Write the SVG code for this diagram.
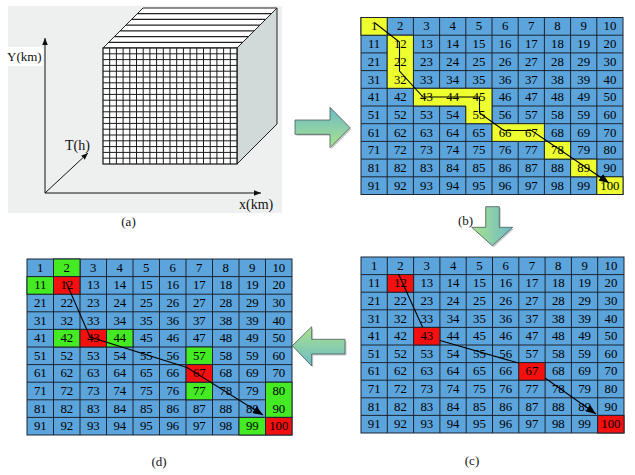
<svg xmlns="http://www.w3.org/2000/svg" width="635" height="475" viewBox="0 0 635 475">
<style>
.n{font-family:"Liberation Serif","Times New Roman",serif;font-size:12.8px;text-anchor:middle;fill:#000}
.lb{font-family:"Liberation Serif","Times New Roman",serif;font-size:13px;fill:#111}
.cell{fill:#5ca4dc;stroke:#1c2530;stroke-width:1}
.gl{fill:none;stroke:#1c2530;stroke-width:1}
.y{fill:#eeff30;stroke:#1c2530;stroke-width:1}
.r{fill:#f51010;stroke:#1c2530;stroke-width:1}
.g{fill:#44ea22;stroke:#1c2530;stroke-width:1}
.path{fill:none;stroke:#000;stroke-width:1.1}
.ax{fill:none;stroke:#111;stroke-width:1}
.big{stroke:#4a5a5a;stroke-width:0.8}
.sh{fill:#c8cccc}
</style>
<defs>
<marker id="ah" viewBox="0 0 10 8" refX="10" refY="4" markerWidth="10" markerHeight="8" markerUnits="userSpaceOnUse" orient="auto"><path d="M0,0L10,4L0,8z" fill="#000"/></marker>
<marker id="ahs" viewBox="0 0 10 8" refX="10" refY="4" markerWidth="7" markerHeight="6" markerUnits="userSpaceOnUse" orient="auto"><path d="M0,0L10,4L0,8z" fill="#111"/></marker>
<linearGradient id="gR" x1="0" y1="0" x2="0" y2="1"><stop offset="0" stop-color="#6cbac8"/><stop offset="1" stop-color="#aae38c"/></linearGradient>
<linearGradient id="gD" x1="0" y1="0" x2="1" y2="0"><stop offset="0" stop-color="#aae38c"/><stop offset="1" stop-color="#6cbac8"/></linearGradient>
<linearGradient id="gL" x1="0" y1="0" x2="0" y2="1"><stop offset="0" stop-color="#aae38c"/><stop offset="1" stop-color="#6cbac8"/></linearGradient>
</defs>
<rect width="635" height="475" fill="#fff"/>

<g id="panel-a">
<rect x="8" y="6" width="274" height="207" fill="#eef0f0"/>
<rect x="6" y="47" width="37" height="19" fill="#fff"/>
<polygon points="237,48 277,8 277,124 237,164" fill="#d2d9d9" stroke="#222" stroke-width="1"/>
<polygon points="103,48 143,8 277,8 237,48" fill="#fff" stroke="#222" stroke-width="1"/>
<path d="M137.3 13.7H271.3M131.6 19.4H265.6M125.9 25.1H259.9M120.1 30.9H254.1M114.4 36.6H248.4M108.7 42.3H242.7" stroke="#222" stroke-width="1.2"/>
<rect x="103" y="48" width="134" height="116" fill="#fff" stroke="#111" stroke-width="1.2"/>
<path d="M109.7 48V164M116.4 48V164M123.1 48V164M129.8 48V164M136.5 48V164M143.2 48V164M149.9 48V164M156.6 48V164M163.3 48V164M170 48V164M176.7 48V164M183.4 48V164M190.1 48V164M196.8 48V164M203.5 48V164M210.2 48V164M216.9 48V164M223.6 48V164M230.3 48V164M103 53.8H237M103 59.6H237M103 65.4H237M103 71.2H237M103 77H237M103 82.8H237M103 88.6H237M103 94.4H237M103 100.2H237M103 106H237M103 111.8H237M103 117.6H237M103 123.4H237M103 129.2H237M103 135H237M103 140.8H237M103 146.6H237M103 152.4H237M103 158.2H237" stroke="#1a1a1a" stroke-width="1"/>
<path class="ax" d="M45 193V38" marker-end="url(#ahs)"/>
<path class="ax" d="M45 193H261" marker-end="url(#ahs)"/>
<path class="ax" d="M45 193L88 153" marker-end="url(#ahs)"/>
<text class="lb" x="7" y="61">Y(km)</text>
<text class="lb" x="65" y="150" style="font-size:14px">T(h)</text>
<text class="lb" x="239" y="209" style="font-size:14px">x(km)</text>
<text class="lb" x="128.5" y="226" text-anchor="middle">(a)</text>
</g>

<g id="arrows">
<polygon class="sh" points="296.5,121.5 331.5,121.5 331.5,108.8 351.5,129.2 331.5,149.2 331.5,135.8 296.5,135.8"/>
<polygon class="big" fill="url(#gR)" points="295,120 330,120 330,107.3 350,127.7 330,147.7 330,134.3 295,134.3"/>
<polygon class="sh" points="487.2,208.2 500.8,208.2 500.8,228.8 514.2,228.8 493.8,247.2 473.2,228.8 487.2,228.8"/>
<polygon class="big" fill="url(#gD)" points="485.7,206.7 499.3,206.7 499.3,227.3 512.7,227.3 492.3,245.7 471.7,227.3 485.7,227.3"/>
<polygon class="sh" points="293.8,347.2 313.2,328.2 313.2,340.8 346.5,340.8 346.5,355.5 313.2,355.5 313.2,367.5"/>
<polygon class="big" fill="url(#gL)" points="292.3,345.7 311.7,326.7 311.7,339.3 345,339.3 345,354 311.7,354 311.7,366"/>
</g>

<g id="panel-b">
<rect class="cell" x="361" y="17.5" width="262" height="177"/>
<path class="gl" d="M387.2 17.5V194.5M413.4 17.5V194.5M439.6 17.5V194.5M465.8 17.5V194.5M492 17.5V194.5M518.2 17.5V194.5M544.4 17.5V194.5M570.6 17.5V194.5M596.8 17.5V194.5M361 35.2H623M361 52.9H623M361 70.6H623M361 88.3H623M361 106H623M361 123.7H623M361 141.4H623M361 159.1H623M361 176.8H623"/>
<rect class="y" x="361" y="17.5" width="26.2" height="17.7"/>
<rect class="y" x="387.2" y="35.2" width="26.2" height="53.1"/>
<polygon class="y" points="413.4,88.3 492,88.3 492,123.7 465.8,123.7 465.8,106 413.4,106"/>
<rect class="y" x="492" y="123.7" width="52.4" height="17.7"/>
<rect class="y" x="544.4" y="141.4" width="26.2" height="17.7"/>
<rect class="y" x="570.6" y="159.1" width="26.2" height="17.7"/>
<rect class="y" x="596.8" y="176.8" width="26.2" height="17.7"/>
<text class="n" x="374.1" y="30.4">1</text><text class="n" x="400.3" y="30.4">2</text><text class="n" x="426.5" y="30.4">3</text><text class="n" x="452.7" y="30.4">4</text><text class="n" x="478.9" y="30.4">5</text><text class="n" x="505.1" y="30.4">6</text><text class="n" x="531.3" y="30.4">7</text><text class="n" x="557.5" y="30.4">8</text><text class="n" x="583.7" y="30.4">9</text><text class="n" x="609.9" y="30.4">10</text>
<text class="n" x="374.1" y="48.1">11</text><text class="n" x="400.3" y="48.1">12</text><text class="n" x="426.5" y="48.1">13</text><text class="n" x="452.7" y="48.1">14</text><text class="n" x="478.9" y="48.1">15</text><text class="n" x="505.1" y="48.1">16</text><text class="n" x="531.3" y="48.1">17</text><text class="n" x="557.5" y="48.1">18</text><text class="n" x="583.7" y="48.1">19</text><text class="n" x="609.9" y="48.1">20</text>
<text class="n" x="374.1" y="65.8">21</text><text class="n" x="400.3" y="65.8">22</text><text class="n" x="426.5" y="65.8">23</text><text class="n" x="452.7" y="65.8">24</text><text class="n" x="478.9" y="65.8">25</text><text class="n" x="505.1" y="65.8">26</text><text class="n" x="531.3" y="65.8">27</text><text class="n" x="557.5" y="65.8">28</text><text class="n" x="583.7" y="65.8">29</text><text class="n" x="609.9" y="65.8">30</text>
<text class="n" x="374.1" y="83.5">31</text><text class="n" x="400.3" y="83.5">32</text><text class="n" x="426.5" y="83.5">33</text><text class="n" x="452.7" y="83.5">34</text><text class="n" x="478.9" y="83.5">35</text><text class="n" x="505.1" y="83.5">36</text><text class="n" x="531.3" y="83.5">37</text><text class="n" x="557.5" y="83.5">38</text><text class="n" x="583.7" y="83.5">39</text><text class="n" x="609.9" y="83.5">40</text>
<text class="n" x="374.1" y="101.2">41</text><text class="n" x="400.3" y="101.2">42</text><text class="n" x="426.5" y="101.2">43</text><text class="n" x="452.7" y="101.2">44</text><text class="n" x="478.9" y="101.2">45</text><text class="n" x="505.1" y="101.2">46</text><text class="n" x="531.3" y="101.2">47</text><text class="n" x="557.5" y="101.2">48</text><text class="n" x="583.7" y="101.2">49</text><text class="n" x="609.9" y="101.2">50</text>
<text class="n" x="374.1" y="118.9">51</text><text class="n" x="400.3" y="118.9">52</text><text class="n" x="426.5" y="118.9">53</text><text class="n" x="452.7" y="118.9">54</text><text class="n" x="478.9" y="118.9">55</text><text class="n" x="505.1" y="118.9">56</text><text class="n" x="531.3" y="118.9">57</text><text class="n" x="557.5" y="118.9">58</text><text class="n" x="583.7" y="118.9">59</text><text class="n" x="609.9" y="118.9">60</text>
<text class="n" x="374.1" y="136.6">61</text><text class="n" x="400.3" y="136.6">62</text><text class="n" x="426.5" y="136.6">63</text><text class="n" x="452.7" y="136.6">64</text><text class="n" x="478.9" y="136.6">65</text><text class="n" x="505.1" y="136.6">66</text><text class="n" x="531.3" y="136.6">67</text><text class="n" x="557.5" y="136.6">68</text><text class="n" x="583.7" y="136.6">69</text><text class="n" x="609.9" y="136.6">70</text>
<text class="n" x="374.1" y="154.3">71</text><text class="n" x="400.3" y="154.3">72</text><text class="n" x="426.5" y="154.3">73</text><text class="n" x="452.7" y="154.3">74</text><text class="n" x="478.9" y="154.3">75</text><text class="n" x="505.1" y="154.3">76</text><text class="n" x="531.3" y="154.3">77</text><text class="n" x="557.5" y="154.3">78</text><text class="n" x="583.7" y="154.3">79</text><text class="n" x="609.9" y="154.3">80</text>
<text class="n" x="374.1" y="172">81</text><text class="n" x="400.3" y="172">82</text><text class="n" x="426.5" y="172">83</text><text class="n" x="452.7" y="172">84</text><text class="n" x="478.9" y="172">85</text><text class="n" x="505.1" y="172">86</text><text class="n" x="531.3" y="172">87</text><text class="n" x="557.5" y="172">88</text><text class="n" x="583.7" y="172">89</text><text class="n" x="609.9" y="172">90</text>
<text class="n" x="374.1" y="189.7">91</text><text class="n" x="400.3" y="189.7">92</text><text class="n" x="426.5" y="189.7">93</text><text class="n" x="452.7" y="189.7">94</text><text class="n" x="478.9" y="189.7">95</text><text class="n" x="505.1" y="189.7">96</text><text class="n" x="531.3" y="189.7">97</text><text class="n" x="557.5" y="189.7">98</text><text class="n" x="583.7" y="189.7">99</text><text class="n" x="609.9" y="189.7">100</text>
<text class="lb" x="458" y="225">(b)</text>
</g>

<g id="panel-c">
<rect class="cell" x="361" y="257" width="263" height="176"/>
<path class="gl" d="M387.3 257V433M413.6 257V433M439.9 257V433M466.2 257V433M492.5 257V433M518.8 257V433M545.1 257V433M571.4 257V433M597.7 257V433M361 274.6H624M361 292.2H624M361 309.8H624M361 327.4H624M361 345H624M361 362.6H624M361 380.2H624M361 397.8H624M361 415.4H624"/>
<rect class="r" x="387.3" y="274.6" width="26.3" height="17.6"/>
<rect class="r" x="413.6" y="327.4" width="26.3" height="17.6"/>
<rect class="r" x="518.8" y="362.6" width="26.3" height="17.6"/>
<rect class="r" x="597.7" y="415.4" width="26.3" height="17.6"/>
<text class="n" x="374.2" y="269.8">1</text><text class="n" x="400.5" y="269.8">2</text><text class="n" x="426.8" y="269.8">3</text><text class="n" x="453.1" y="269.8">4</text><text class="n" x="479.4" y="269.8">5</text><text class="n" x="505.7" y="269.8">6</text><text class="n" x="532" y="269.8">7</text><text class="n" x="558.3" y="269.8">8</text><text class="n" x="584.6" y="269.8">9</text><text class="n" x="610.9" y="269.8">10</text>
<text class="n" x="374.2" y="287.4">11</text><text class="n" x="400.5" y="287.4">12</text><text class="n" x="426.8" y="287.4">13</text><text class="n" x="453.1" y="287.4">14</text><text class="n" x="479.4" y="287.4">15</text><text class="n" x="505.7" y="287.4">16</text><text class="n" x="532" y="287.4">17</text><text class="n" x="558.3" y="287.4">18</text><text class="n" x="584.6" y="287.4">19</text><text class="n" x="610.9" y="287.4">20</text>
<text class="n" x="374.2" y="305">21</text><text class="n" x="400.5" y="305">22</text><text class="n" x="426.8" y="305">23</text><text class="n" x="453.1" y="305">24</text><text class="n" x="479.4" y="305">25</text><text class="n" x="505.7" y="305">26</text><text class="n" x="532" y="305">27</text><text class="n" x="558.3" y="305">28</text><text class="n" x="584.6" y="305">29</text><text class="n" x="610.9" y="305">30</text>
<text class="n" x="374.2" y="322.6">31</text><text class="n" x="400.5" y="322.6">32</text><text class="n" x="426.8" y="322.6">33</text><text class="n" x="453.1" y="322.6">34</text><text class="n" x="479.4" y="322.6">35</text><text class="n" x="505.7" y="322.6">36</text><text class="n" x="532" y="322.6">37</text><text class="n" x="558.3" y="322.6">38</text><text class="n" x="584.6" y="322.6">39</text><text class="n" x="610.9" y="322.6">40</text>
<text class="n" x="374.2" y="340.2">41</text><text class="n" x="400.5" y="340.2">42</text><text class="n" x="426.8" y="340.2">43</text><text class="n" x="453.1" y="340.2">44</text><text class="n" x="479.4" y="340.2">45</text><text class="n" x="505.7" y="340.2">46</text><text class="n" x="532" y="340.2">47</text><text class="n" x="558.3" y="340.2">48</text><text class="n" x="584.6" y="340.2">49</text><text class="n" x="610.9" y="340.2">50</text>
<text class="n" x="374.2" y="357.8">51</text><text class="n" x="400.5" y="357.8">52</text><text class="n" x="426.8" y="357.8">53</text><text class="n" x="453.1" y="357.8">54</text><text class="n" x="479.4" y="357.8">55</text><text class="n" x="505.7" y="357.8">56</text><text class="n" x="532" y="357.8">57</text><text class="n" x="558.3" y="357.8">58</text><text class="n" x="584.6" y="357.8">59</text><text class="n" x="610.9" y="357.8">60</text>
<text class="n" x="374.2" y="375.4">61</text><text class="n" x="400.5" y="375.4">62</text><text class="n" x="426.8" y="375.4">63</text><text class="n" x="453.1" y="375.4">64</text><text class="n" x="479.4" y="375.4">65</text><text class="n" x="505.7" y="375.4">66</text><text class="n" x="532" y="375.4">67</text><text class="n" x="558.3" y="375.4">68</text><text class="n" x="584.6" y="375.4">69</text><text class="n" x="610.9" y="375.4">70</text>
<text class="n" x="374.2" y="393">71</text><text class="n" x="400.5" y="393">72</text><text class="n" x="426.8" y="393">73</text><text class="n" x="453.1" y="393">74</text><text class="n" x="479.4" y="393">75</text><text class="n" x="505.7" y="393">76</text><text class="n" x="532" y="393">77</text><text class="n" x="558.3" y="393">78</text><text class="n" x="584.6" y="393">79</text><text class="n" x="610.9" y="393">80</text>
<text class="n" x="374.2" y="410.6">81</text><text class="n" x="400.5" y="410.6">82</text><text class="n" x="426.8" y="410.6">83</text><text class="n" x="453.1" y="410.6">84</text><text class="n" x="479.4" y="410.6">85</text><text class="n" x="505.7" y="410.6">86</text><text class="n" x="532" y="410.6">87</text><text class="n" x="558.3" y="410.6">88</text><text class="n" x="584.6" y="410.6">89</text><text class="n" x="610.9" y="410.6">90</text>
<text class="n" x="374.2" y="428.2">91</text><text class="n" x="400.5" y="428.2">92</text><text class="n" x="426.8" y="428.2">93</text><text class="n" x="453.1" y="428.2">94</text><text class="n" x="479.4" y="428.2">95</text><text class="n" x="505.7" y="428.2">96</text><text class="n" x="532" y="428.2">97</text><text class="n" x="558.3" y="428.2">98</text><text class="n" x="584.6" y="428.2">99</text><text class="n" x="610.9" y="428.2">100</text>
<text class="lb" x="472" y="465" text-anchor="middle">(c)</text>
</g>

<g id="panel-d">
<rect class="cell" x="27" y="259" width="265" height="176"/>
<path class="gl" d="M53.5 259V435M80 259V435M106.5 259V435M133 259V435M159.5 259V435M186 259V435M212.5 259V435M239 259V435M265.5 259V435M27 276.6H292M27 294.2H292M27 311.8H292M27 329.4H292M27 347H292M27 364.6H292M27 382.2H292M27 399.8H292M27 417.4H292"/>
<rect class="g" x="53.5" y="259" width="26.5" height="17.6"/>
<rect class="g" x="27" y="276.6" width="26.5" height="17.6"/>
<rect class="g" x="53.5" y="329.4" width="26.5" height="17.6"/>
<rect class="g" x="106.5" y="329.4" width="26.5" height="17.6"/>
<rect class="g" x="186" y="347" width="26.5" height="17.6"/>
<rect class="g" x="186" y="382.2" width="26.5" height="17.6"/>
<rect class="g" x="265.5" y="382.2" width="26.5" height="35.2"/>
<rect class="g" x="239" y="417.4" width="26.5" height="17.6"/>
<rect class="r" x="53.5" y="276.6" width="26.5" height="17.6"/>
<rect class="r" x="80" y="329.4" width="26.5" height="17.6"/>
<rect class="r" x="186" y="364.6" width="26.5" height="17.6"/>
<rect class="r" x="265.5" y="417.4" width="26.5" height="17.6"/>
<text class="n" x="40.3" y="271.8">1</text><text class="n" x="66.8" y="271.8">2</text><text class="n" x="93.3" y="271.8">3</text><text class="n" x="119.8" y="271.8">4</text><text class="n" x="146.3" y="271.8">5</text><text class="n" x="172.8" y="271.8">6</text><text class="n" x="199.3" y="271.8">7</text><text class="n" x="225.8" y="271.8">8</text><text class="n" x="252.3" y="271.8">9</text><text class="n" x="278.8" y="271.8">10</text>
<text class="n" x="40.3" y="289.4">11</text><text class="n" x="66.8" y="289.4">12</text><text class="n" x="93.3" y="289.4">13</text><text class="n" x="119.8" y="289.4">14</text><text class="n" x="146.3" y="289.4">15</text><text class="n" x="172.8" y="289.4">16</text><text class="n" x="199.3" y="289.4">17</text><text class="n" x="225.8" y="289.4">18</text><text class="n" x="252.3" y="289.4">19</text><text class="n" x="278.8" y="289.4">20</text>
<text class="n" x="40.3" y="307">21</text><text class="n" x="66.8" y="307">22</text><text class="n" x="93.3" y="307">23</text><text class="n" x="119.8" y="307">24</text><text class="n" x="146.3" y="307">25</text><text class="n" x="172.8" y="307">26</text><text class="n" x="199.3" y="307">27</text><text class="n" x="225.8" y="307">28</text><text class="n" x="252.3" y="307">29</text><text class="n" x="278.8" y="307">30</text>
<text class="n" x="40.3" y="324.6">31</text><text class="n" x="66.8" y="324.6">32</text><text class="n" x="93.3" y="324.6">33</text><text class="n" x="119.8" y="324.6">34</text><text class="n" x="146.3" y="324.6">35</text><text class="n" x="172.8" y="324.6">36</text><text class="n" x="199.3" y="324.6">37</text><text class="n" x="225.8" y="324.6">38</text><text class="n" x="252.3" y="324.6">39</text><text class="n" x="278.8" y="324.6">40</text>
<text class="n" x="40.3" y="342.2">41</text><text class="n" x="66.8" y="342.2">42</text><text class="n" x="93.3" y="342.2">43</text><text class="n" x="119.8" y="342.2">44</text><text class="n" x="146.3" y="342.2">45</text><text class="n" x="172.8" y="342.2">46</text><text class="n" x="199.3" y="342.2">47</text><text class="n" x="225.8" y="342.2">48</text><text class="n" x="252.3" y="342.2">49</text><text class="n" x="278.8" y="342.2">50</text>
<text class="n" x="40.3" y="359.8">51</text><text class="n" x="66.8" y="359.8">52</text><text class="n" x="93.3" y="359.8">53</text><text class="n" x="119.8" y="359.8">54</text><text class="n" x="146.3" y="359.8">55</text><text class="n" x="172.8" y="359.8">56</text><text class="n" x="199.3" y="359.8">57</text><text class="n" x="225.8" y="359.8">58</text><text class="n" x="252.3" y="359.8">59</text><text class="n" x="278.8" y="359.8">60</text>
<text class="n" x="40.3" y="377.4">61</text><text class="n" x="66.8" y="377.4">62</text><text class="n" x="93.3" y="377.4">63</text><text class="n" x="119.8" y="377.4">64</text><text class="n" x="146.3" y="377.4">65</text><text class="n" x="172.8" y="377.4">66</text><text class="n" x="199.3" y="377.4">67</text><text class="n" x="225.8" y="377.4">68</text><text class="n" x="252.3" y="377.4">69</text><text class="n" x="278.8" y="377.4">70</text>
<text class="n" x="40.3" y="395">71</text><text class="n" x="66.8" y="395">72</text><text class="n" x="93.3" y="395">73</text><text class="n" x="119.8" y="395">74</text><text class="n" x="146.3" y="395">75</text><text class="n" x="172.8" y="395">76</text><text class="n" x="199.3" y="395">77</text><text class="n" x="225.8" y="395">78</text><text class="n" x="252.3" y="395">79</text><text class="n" x="278.8" y="395">80</text>
<text class="n" x="40.3" y="412.6">81</text><text class="n" x="66.8" y="412.6">82</text><text class="n" x="93.3" y="412.6">83</text><text class="n" x="119.8" y="412.6">84</text><text class="n" x="146.3" y="412.6">85</text><text class="n" x="172.8" y="412.6">86</text><text class="n" x="199.3" y="412.6">87</text><text class="n" x="225.8" y="412.6">88</text><text class="n" x="252.3" y="412.6">89</text><text class="n" x="278.8" y="412.6">90</text>
<text class="n" x="40.3" y="430.2">91</text><text class="n" x="66.8" y="430.2">92</text><text class="n" x="93.3" y="430.2">93</text><text class="n" x="119.8" y="430.2">94</text><text class="n" x="146.3" y="430.2">95</text><text class="n" x="172.8" y="430.2">96</text><text class="n" x="199.3" y="430.2">97</text><text class="n" x="225.8" y="430.2">98</text><text class="n" x="252.3" y="430.2">99</text><text class="n" x="278.8" y="430.2">100</text>
<text class="lb" x="159" y="466" text-anchor="middle">(d)</text>
</g>

<g id="connectors">
<path class="path" d="M375 23L399.5 42L399.5 71L423 97L479.5 97L479.5 113L504 130.5L531.5 130.5L609 183" marker-end="url(#ah)"/>
<path class="path" d="M398.5 274L422.5 327"/>
<path class="path" d="M440 340.5L518.5 363"/>
<path class="path" d="M545 378L596 414" marker-end="url(#ah)"/>
<path class="path" d="M66 282L90 337L187 367.5L263 415" marker-end="url(#ah)"/>
</g>
</svg>
